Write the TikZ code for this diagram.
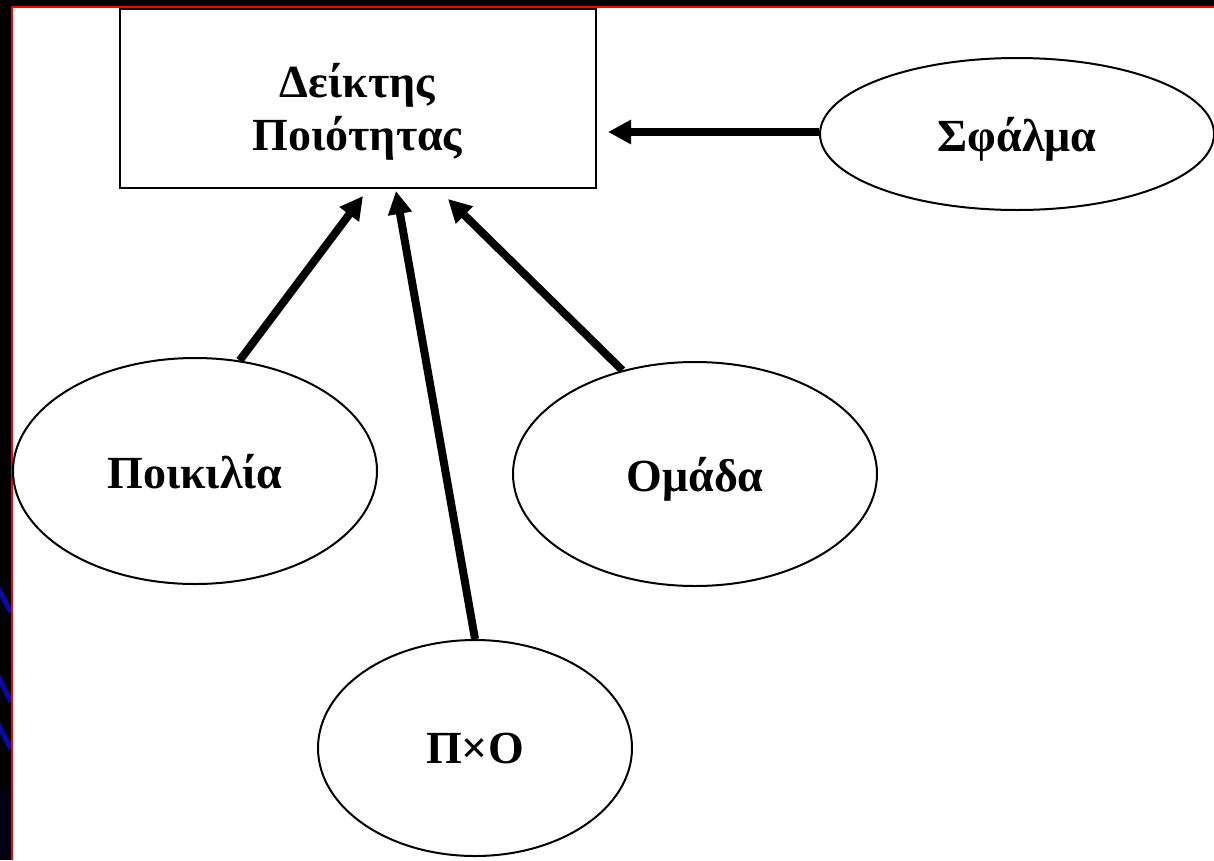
\documentclass[tikz,border=0pt]{standalone}
\usepackage{fontspec}
\setmainfont{Liberation Serif}
\usetikzlibrary{shapes.geometric,arrows.meta}
\definecolor{strokeblue}{RGB}{10,10,170}
\tikzset{
  lbl/.style={font=\bfseries\fontsize{46}{53}\selectfont, text=black},
  oval/.style={ellipse, draw=black, line width=2pt, fill=white, inner sep=0pt, lbl, text depth=0pt},
  bigarrow/.style={line width=8pt, draw=black, -{Triangle[length=23pt,width=23pt]}},
  bluestroke/.style={line width=5pt, draw=strokeblue}
}
\begin{document}
\begin{tikzpicture}[x=1pt,y=-1pt]
\useasboundingbox (0,0) rectangle (1214,860);
\fill[black] (0,0) rectangle (1214,860);
\fill[black!92!blue] (0,790) rectangle (11,860);
\draw[bluestroke] (-2,588) -- (11,612);
\draw[bluestroke] (-2,676) -- (11,702);
\draw[bluestroke] (-2,724) -- (11,749);
\fill[white] (12,8) rectangle (1214,860);
\draw[red, line width=2.5pt] (12,860) -- (12,7) -- (1214,7);

\node[draw=black, line width=2pt, minimum width=476pt, minimum height=179pt, inner sep=0pt] (box) at (357.5,98.5) {};
\node[lbl, align=center] (boxtxt) at (357.5,112) {Δείκτης\\Ποιότητας};

\node[oval, minimum width=394pt, minimum height=152pt] (sf) at (1017,134) {Σφάλμα};
\node[oval, minimum width=364pt, minimum height=226pt] (pk) at (195,471) {Ποικιλία};
\node[oval, minimum width=364pt, minimum height=224pt] (om) at (695,474) {Ομάδα};
\node[oval, minimum width=314pt, minimum height=216pt] (po) at (475,748) {Π×Ο};

\coordinate (t1) at (363,196);
\coordinate (t2) at (396,191);
\coordinate (t3) at (448,199);
\coordinate (t4) at (608,132);

\draw[bigarrow] (pk.68) -- (t1);
\draw[bigarrow] (po.north) -- (t2);
\draw[bigarrow] (om.125) -- (t3);
\draw[bigarrow] (sf.west |- t4) -- (t4);
\end{tikzpicture}
\end{document}
